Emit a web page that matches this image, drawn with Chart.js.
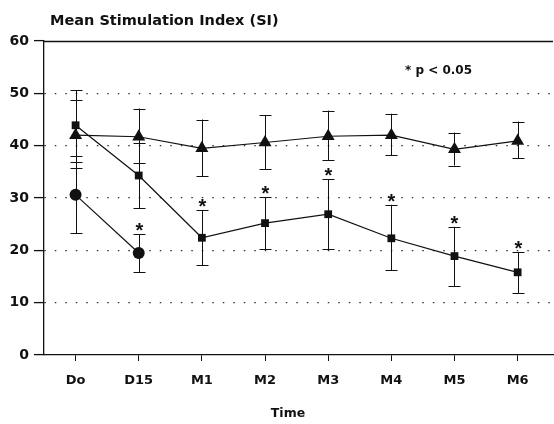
<!DOCTYPE html>
<html>
<head>
<meta charset="utf-8">
<script src="https://cdn.jsdelivr.net/npm/chart.js@4"></script>
<style>
html,body{margin:0;padding:0;background:#fff;overflow:hidden;}
</style>
</head>
<body>
<canvas id="c" width="554" height="424" style="display:block;width:554px;height:424px;"></canvas>
<script>
const timeLabels = ["Do", "D15", "M1", "M2", "M3", "M4", "M5", "M6"];
const yTicks = [0, 10, 20, 30, 40, 50, 60];

const triMean = [42.0, 41.7, 39.5, 40.6, 41.8, 42.0, 39.3, 40.9];
const triHigh = [48.7, 47.1, 45.0, 45.8, 46.7, 46.1, 42.5, 44.6];
const triLow  = [35.8, 36.6, 34.2, 35.5, 37.2, 38.2, 36.2, 37.6];

const sqMean = [43.9, 34.3, 22.4, 25.2, 26.9, 22.3, 18.9, 15.8];
const sqHigh = [50.6, 40.6, 27.7, 30.2, 33.6, 28.7, 24.5, 19.6];
const sqLow  = [36.9, 28.0, 17.2, 20.2, 20.2, 16.2, 13.2, 11.8];
const sqSig  = [false, false, true, true, true, true, true, true];

const ciMean = [30.6, 19.5];
const ciHigh = [38.0, 23.1];
const ciLow  = [23.3, 15.8];
const ciSig  = [false, true];

const titleText = "Mean Stimulation Index (SI)";
const noteText = "* p < 0.05";
const xTitle = "Time";

const FONT = "'DejaVu Sans', Verdana, sans-serif";
const STAR_FONT = "'Liberation Sans', Arial, sans-serif";

function pts(arr){ return arr.map((v,i)=>({x:i,y:v})); }

const errorBars = {
  id: 'errorBars',
  afterDatasetsDraw(chart){
    const ctx = chart.ctx, xs = chart.scales.x, ys = chart.scales.y;
    ctx.save();
    chart.data.datasets.forEach(ds=>{
      if(!ds.errHigh) return;
      ctx.strokeStyle = '#111';
      ctx.lineWidth = 1;
      ds.data.forEach((p,i)=>{
        const x = Math.round(xs.getPixelForValue(p.x)) + 0.5;
        const yh = ys.getPixelForValue(ds.errHigh[i]);
        const yl = ys.getPixelForValue(ds.errLow[i]);
        ctx.beginPath();
        ctx.moveTo(x, yh); ctx.lineTo(x, yl);
        ctx.moveTo(x-6, Math.round(yh)+0.5); ctx.lineTo(x+6, Math.round(yh)+0.5);
        ctx.moveTo(x-6, Math.round(yl)+0.5); ctx.lineTo(x+6, Math.round(yl)+0.5);
        ctx.stroke();
        if(ds.sig && ds.sig[i]){
          ctx.fillStyle = '#111';
          ctx.font = "bold 20px " + STAR_FONT;
          ctx.textAlign = 'center';
          ctx.textBaseline = 'alphabetic';
          ctx.fillText('*', x, yh + 3);
        }
      });
    });
    ctx.restore();
  }
};

const decor = {
  id: 'decor',
  afterDraw(chart){
    const ctx = chart.ctx, a = chart.chartArea;
    ctx.save();
    ctx.strokeStyle = '#111';
    ctx.lineWidth = 1.3;
    ctx.beginPath();
    ctx.moveTo(a.left, a.top + 0.5); ctx.lineTo(a.right, a.top + 0.5);
    ctx.stroke();
    ctx.fillStyle = '#111';
    ctx.font = "bold 14.5px " + FONT;
    ctx.textAlign = 'left';
    ctx.textBaseline = 'middle';
    ctx.fillText(titleText, 50, 21);
    ctx.font = "bold 12px " + FONT;
    ctx.fillText(noteText, 405, 71);
    ctx.font = "bold 12.5px " + FONT;
    ctx.textAlign = 'center';
    ctx.fillText(xTitle, 288, 414);
    ctx.restore();
  }
};

new Chart(document.getElementById('c'), {
  type: 'line',
  data: {
    datasets: [
      { label: 'tri', data: pts(triMean), errHigh: triHigh, errLow: triLow,
        borderColor: '#111', backgroundColor: '#111', borderWidth: 1.2,
        pointStyle: 'triangle', pointRadius: 7.5, pointBackgroundColor: '#111', pointBorderWidth: 0 },
      { label: 'sq', data: pts(sqMean), errHigh: sqHigh, errLow: sqLow, sig: sqSig,
        borderColor: '#111', backgroundColor: '#111', borderWidth: 1.2,
        pointStyle: 'rect', pointRadius: 5.5, pointBackgroundColor: '#111', pointBorderWidth: 0 },
      { label: 'ci', data: pts(ciMean), errHigh: ciHigh, errLow: ciLow, sig: ciSig,
        borderColor: '#111', backgroundColor: '#111', borderWidth: 1.2,
        pointStyle: 'circle', pointRadius: 6, pointBackgroundColor: '#111', pointBorderWidth: 0 }
    ]
  },
  options: {
    responsive: false,
    animation: false,
    layout: { autoPadding: false, padding: { top: 41, right: 1, left: 0, bottom: 0 } },
    plugins: { legend: { display: false }, tooltip: { enabled: false }, title: { display: false } },
    scales: {
      x: {
        type: 'linear',
        min: -0.5,
        max: 7.56,
        afterFit(s){ s.height = 69; s.paddingLeft = 0; s.paddingRight = 0; },
        afterBuildTicks(s){ s.ticks = timeLabels.map((_,i)=>({value:i})); },
        ticks: {
          callback: (v)=> timeLabels[v],
          color: '#111',
          font: { family: FONT, size: 13, weight: 'bold' },
          padding: 12,
          maxRotation: 0,
          autoSkip: false
        },
        grid: { drawOnChartArea: false, drawTicks: true, tickLength: 6, tickColor: '#111', tickWidth: 1 },
        border: { display: true, color: '#111', width: 1.3 }
      },
      y: {
        min: 0,
        max: 60,
        afterFit(s){ s.width = 44; s.paddingTop = 0; s.paddingBottom = 0; },
        afterBuildTicks(s){ s.ticks = yTicks.map(v=>({value:v})); },
        ticks: {
          color: '#111',
          font: { family: FONT, size: 14, weight: 'bold' },
          padding: 5
        },
        grid: {
          color: (c)=> (c.tick && (c.tick.value === 0 || c.tick.value === 60)) ? 'rgba(0,0,0,0)' : '#333',
          lineWidth: 1.2,
          tickLength: 10,
          tickColor: '#111',
          tickWidth: 1.3,
          tickBorderDash: []
        },
        border: { display: true, color: '#111', width: 1.3, dash: [1.5, 9] }
      }
    }
  },
  plugins: [errorBars, decor]
});
</script>
</body>
</html>
